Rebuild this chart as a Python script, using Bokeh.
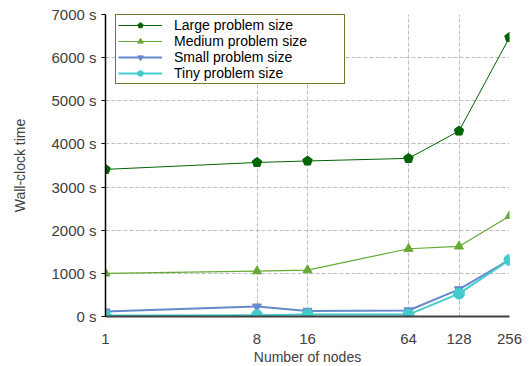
from bokeh.plotting import figure
from bokeh.models import FixedTicker, Legend, LegendItem
from bokeh.embed import file_html
from bokeh.resources import INLINE

nodes = [1, 8, 16, 64, 128, 256]
large = [3410, 3570, 3605, 3665, 4300, 6470]
medium = [1000, 1050, 1075, 1570, 1625, 2330]
small = [115, 230, 130, 140, 630, 1310]
tiny = [25, 30, 45, 45, 530, 1310]
y_ticks = [0, 1000, 2000, 3000, 4000, 5000, 6000, 7000]
y_labels = [f"{v} s" for v in y_ticks]

FONT = "Liberation Sans"

p = figure(frame_width=404, frame_height=302, x_axis_type="log", x_range=(1, 256), y_range=(0, 7000),
           output_backend="svg", toolbar_location=None,
           min_border_left=105, min_border_right=21, min_border_top=14, min_border_bottom=50)
p.outline_line_color = None

p.xaxis.ticker = FixedTicker(ticks=nodes)
p.xaxis.major_label_overrides = {n: str(n) for n in nodes}
p.yaxis.ticker = FixedTicker(ticks=y_ticks)
p.yaxis.major_label_overrides = {v: l for v, l in zip(y_ticks, y_labels)}
p.xaxis.minor_tick_line_color = None
p.yaxis.minor_tick_line_color = None

for ax in (p.xaxis, p.yaxis):
    ax.major_label_text_font = FONT
    ax.major_label_text_font_size = "15px"
    ax.major_label_text_color = "#404040"
    ax.axis_label_text_font = FONT
    ax.axis_label_text_font_style = "normal"
    ax.axis_label_text_color = "#404040"
    ax.axis_label_text_font_size = "14px"

p.xaxis.axis_label = "Number of nodes"
p.yaxis.axis_label = "Wall-clock time"
p.xaxis.axis_line_color = "#404040"
p.xaxis.axis_line_width = 2
p.xaxis.major_tick_line_color = None
p.xaxis.major_tick_out = 0
p.xaxis.major_tick_in = 0
p.xaxis.major_label_standoff = 17
p.xaxis.axis_label_standoff = 2
p.yaxis.axis_line_color = "#000000"
p.yaxis.axis_line_width = 1.5
p.yaxis.major_tick_line_color = "#000000"
p.yaxis.major_tick_in = 0
p.yaxis.major_tick_out = 4
p.yaxis.major_label_standoff = 5
p.yaxis.axis_label_standoff = 20

for g in (p.xgrid, p.ygrid):
    g.grid_line_color = "#bdbdbd"
    g.grid_line_dash = "4 2"
    g.grid_line_width = 1

c_large, c_med, c_small, c_tiny = "#006400", "#66aa33", "#6688cc", "#44cccc"

l1 = p.line(nodes, large, line_color=c_large, line_width=1)
m1 = p.ngon(nodes, large, radius=5, radius_units="screen", n=5, fill_color=c_large, line_color=c_large)
l2 = p.line(nodes, medium, line_color=c_med, line_width=1.2)
m2 = p.scatter(nodes, medium, marker="triangle", size=9, fill_color=c_med, line_color=c_med)
l3 = p.line(nodes, small, line_color=c_small, line_width=2)
m3 = p.scatter(nodes, small, marker="inverted_triangle", size=9, fill_color=c_small, line_color=c_small)
l4 = p.line(nodes, tiny, line_color=c_tiny, line_width=2)
m4 = p.scatter(nodes, tiny, marker="circle", size=11, fill_color=c_tiny, line_color=c_tiny)

legend = Legend(items=[
    LegendItem(label="Large problem size", renderers=[l1, m1]),
    LegendItem(label="Medium problem size", renderers=[l2, m2]),
    LegendItem(label="Small problem size", renderers=[l3, m3]),
    LegendItem(label="Tiny problem size", renderers=[l4, m4]),
], location=(10, 232))
legend.border_line_color = "#6b7d2b"
legend.border_line_width = 1.2
legend.border_line_alpha = 1
legend.background_fill_alpha = 1
legend.label_text_font = FONT
legend.label_text_font_size = "14px"
legend.label_text_color = "#000000"
legend.label_height = 14
legend.label_width = 168
legend.glyph_height = 14
legend.glyph_width = 44
legend.spacing = 0
legend.padding = 2
legend.margin = 0
legend.label_standoff = 12
p.add_layout(legend, "center")

open("out.html", "w").write(file_html(p, INLINE))
